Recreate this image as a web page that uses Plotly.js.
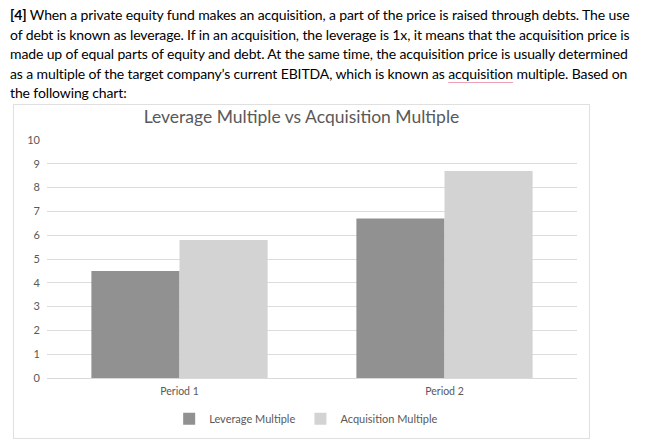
<!DOCTYPE html>
<html>
<head>
<meta charset="utf-8">
<script src="https://cdn.plot.ly/plotly-3.0.1.min.js"></script>
<style>
body{margin:0;background:#fff;width:664px;height:445px;overflow:hidden;position:relative}
#txt{position:absolute;left:10px;top:5px;font-family:Lato,"Open Sans",sans-serif;font-size:14px;line-height:19.5px;color:#000;white-space:nowrap;letter-spacing:-0.12px}
#txt .sp{text-decoration:underline;text-decoration-color:#f0a0b4;text-underline-offset:3px}
#chart{position:absolute;left:13px;top:104px;width:575px;height:333px;border:1px solid #e0e0e0}
</style>
</head>
<body>
<div id="txt">
<b>[4]</b> When a private equity fund makes an acquisition, a part of the price is raised through debts. The use<br>
of debt is known as leverage. If in an acquisition, the leverage is 1x, it means that the acquisition price is<br>
made up of equal parts of equity and debt. At the same time, the acquisition price is usually determined<br>
as a multiple of the target company’s current EBITDA, which is known as <span class="sp">acquisition</span> multiple. Based on<br>
the following chart:
</div>
<div id="chart"></div>
<script>
// values
const periods = ['Period 1','Period 2']
const leverage = [4.5, 6.7]
const acquisition = [5.8, 8.7]
const yTicks = [0,1,2,3,4,5,6,7,8,9,10]

let font = 'Lato, "Open Sans", sans-serif'
let traces = [
    {x: periods, y: leverage, name: 'Leverage Multiple', type: 'bar', marker: {color: '#919191'}},
    {x: periods, y: acquisition, name: 'Acquisition Multiple', type: 'bar', marker: {color: '#d3d3d3'}}
]
let layout = {
    width: 575, height: 333,
    margin: {l: 33, r: 12, t: 35, b: 60},
    paper_bgcolor: '#fff', plot_bgcolor: '#fff',
    font: {family: font, color: '#595959', size: 11},
    title: {text: 'Leverage Multiple vs Acquisition Multiple', font: {size: 17.5, color: '#595959', family: font},
        x: 0.5, xref: 'container', y: 0.965, yref: 'container', yanchor: 'middle', automargin: false},
    barmode: 'group', bargap: 0.335, bargroupgap: 0,
    xaxis: {showgrid: false, showline: false, ticks: '', tickfont: {size: 10.5}, ticklabelstandoff: 5, automargin: false},
    yaxis: {range: [0, 10], tickmode: 'array', tickvals: yTicks, ticktext: yTicks.map(String),
        showgrid: true, gridcolor: '#dcdcdc', gridwidth: 1, zeroline: true, zerolinecolor: '#d9d9d9',
        ticks: '', ticklabelstandoff: 6, tickfont: {size: 11}, automargin: false},
    showlegend: true,
    legend: {orientation: 'h', x: 0.489, xanchor: 'center', y: 0.058, yref: 'container', yanchor: 'middle', itemwidth: 30,
        font: {size: 11, color: '#595959'}, itemclick: false}
}
Plotly.newPlot('chart', traces, layout, {displayModeBar: false, staticPlot: true})
</script>
</body>
</html>
